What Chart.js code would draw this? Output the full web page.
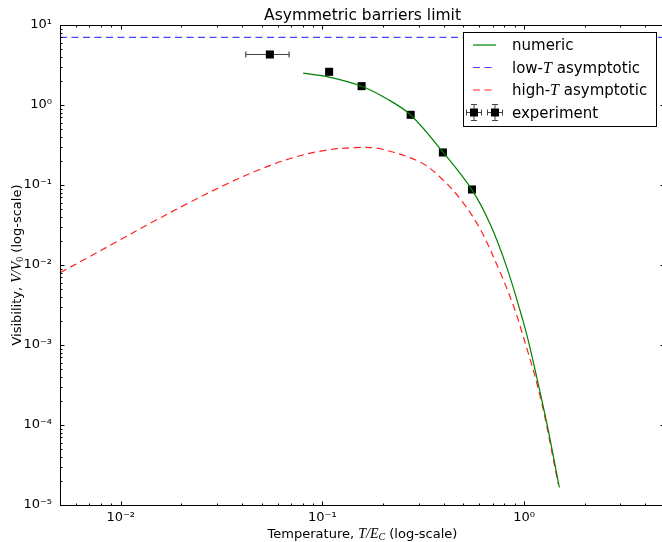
<!DOCTYPE html>
<html>
<head>
<meta charset="utf-8">
<script src="https://cdn.jsdelivr.net/npm/chart.js@4.4.0/dist/chart.umd.min.js"></script>
<style>
  html, body { margin: 0; padding: 0; background: #fff; overflow: hidden; }
</style>
</head>
<body>
<!-- canvas is a little wider than the window: the right spine of the original sits just off the edge -->
<canvas id="chart" width="665" height="542"></canvas>
<script>
// values (log-log)
const numericT = [0.0803, 0.108, 0.1565, 0.2083, 0.2741, 0.3963, 0.5518, 0.6781, 0.8206, 0.992, 1.071, 1.2965, 1.4967];
const numericV = [2.497, 2.233, 1.718, 1.199, 0.750, 0.2576, 0.0871, 0.0328, 0.00942, 0.001945, 0.000918, 1.053e-4, 1.655e-5];

const lowT_T = [0.005, 5];
const lowT_V = [7.0, 7.0];

const highT_T = [0.005, 0.00688, 0.0097, 0.0142, 0.02158, 0.0316, 0.04624, 0.06763, 0.0991, 0.145, 0.1929, 0.3047, 0.3829, 0.4813, 0.6047, 0.7604, 0.8789, 0.9552, 1.2004, 1.4798];
const highT_V = [0.00799, 0.01241, 0.01995, 0.0339, 0.05922, 0.0958, 0.1475, 0.2101, 0.2668, 0.2935, 0.2836, 0.1939, 0.1259, 0.0674, 0.02843, 0.00815, 0.003266, 0.001738, 0.0002317, 1.803e-5];

const expT = [0.0549, 0.108, 0.1565, 0.274, 0.396, 0.552];
const expV = [4.28, 2.60, 1.72, 0.754, 0.255, 0.0879];
const expTLow = [0.0417, null, null, null, null, null];
const expTHigh = [0.0684, null, null, null, null, null];

const xMin = 0.005, xMax = 5;
const yMin = 1e-5, yMax = 10;

const FONT = '"DejaVu Sans", sans-serif';
const MATH = '"Liberation Serif", serif';

const toPoints = (xs, ys) => xs.map((x, i) => ({ x: x, y: ys[i] }));

const SUP = { '-': '\u207B', '0': '\u2070', '1': '\u00B9', '2': '\u00B2', '3': '\u00B3', '4': '\u2074', '5': '\u2075' };
function powLabel(value) {
    const e = Math.log10(value);
    if (Math.abs(e - Math.round(e)) > 1e-6) return '';
    return '10' + String(Math.round(e)).split('').map(c => SUP[c]).join('');
}

function logTicks(min, max) {
    const major = [], minor = [];
    for (let e = Math.floor(Math.log10(min)); e <= Math.ceil(Math.log10(max)); e++) {
        for (let m = 1; m < 10; m++) {
            const v = m * Math.pow(10, e);
            if (v < min * 0.9999 || v > max * 1.0001) continue;
            (m === 1 ? major : minor).push(v);
        }
    }
    return { major, minor };
}

function drawRich(ctx, parts, x, y) {
    let total = 0;
    parts.forEach(p => { ctx.font = p[1]; total += ctx.measureText(p[0]).width; });
    let cx = x - total / 2;
    parts.forEach(p => {
        ctx.font = p[1];
        ctx.fillText(p[0], cx, y + (p[2] || 0));
        cx += ctx.measureText(p[0]).width;
    });
}

function drawErrMarker(ctx, x, y, hx, hy) {
    ctx.strokeStyle = '#444';
    ctx.lineWidth = 1;
    ctx.beginPath();
    ctx.moveTo(x - hx, y); ctx.lineTo(x + hx, y);
    ctx.moveTo(x - hx, y - 3); ctx.lineTo(x - hx, y + 3);
    ctx.moveTo(x + hx, y - 3); ctx.lineTo(x + hx, y + 3);
    ctx.moveTo(x, y - hy); ctx.lineTo(x, y + hy);
    ctx.moveTo(x - 3, y - hy); ctx.lineTo(x + 3, y - hy);
    ctx.moveTo(x - 3, y + hy); ctx.lineTo(x + 3, y + hy);
    ctx.stroke();
}

const errorBars = {
    id: 'errorBars',
    beforeDatasetDraw(chart, args) {
        if (args.index !== 3) return;
        const ctx = chart.ctx, xs = chart.scales.x, ys = chart.scales.y;
        ctx.save();
        ctx.strokeStyle = '#444';
        ctx.lineWidth = 1.2;
        expT.forEach((t, i) => {
            if (expTLow[i] == null) return;
            const y = Math.round(ys.getPixelForValue(expV[i])) + 0.5;
            const a = xs.getPixelForValue(expTLow[i]);
            const b = xs.getPixelForValue(expTHigh[i]);
            ctx.beginPath();
            ctx.moveTo(a, y); ctx.lineTo(b, y);
            ctx.moveTo(a, y - 3); ctx.lineTo(a, y + 3);
            ctx.moveTo(b, y - 3); ctx.lineTo(b, y + 3);
            ctx.stroke();
        });
        ctx.restore();
    }
};

const frame = {
    id: 'frame',
    afterDraw(chart) {
        const ctx = chart.ctx, a = chart.chartArea;
        const xs = chart.scales.x, ys = chart.scales.y;
        const L = Math.round(a.left) + 0.5, R = Math.round(a.right) - 0.5;
        const T = Math.round(a.top) + 0.5, B = Math.round(a.bottom) + 0.5;
        ctx.save();
        ctx.strokeStyle = '#000';
        ctx.lineWidth = 1;
        ctx.strokeRect(L, T, R - L, B - T);

        // inward tick marks on all four sides
        const tx = logTicks(xMin, xMax), ty = logTicks(yMin, yMax);
        ctx.beginPath();
        [[tx.major, 4], [tx.minor, 2]].forEach(([vals, len]) => vals.forEach(v => {
            const p = Math.round(xs.getPixelForValue(v)) + 0.5;
            ctx.moveTo(p, B); ctx.lineTo(p, B - len);
            ctx.moveTo(p, T); ctx.lineTo(p, T + len);
        }));
        [[ty.major, 4], [ty.minor, 2]].forEach(([vals, len]) => vals.forEach(v => {
            const p = Math.round(ys.getPixelForValue(v)) + 0.5;
            ctx.moveTo(L, p); ctx.lineTo(L + len, p);
            ctx.moveTo(R, p); ctx.lineTo(R - len, p);
        }));
        ctx.stroke();

        // title and axis titles
        ctx.fillStyle = '#000';
        ctx.textBaseline = 'alphabetic';
        ctx.textAlign = 'left';
        const cx = (a.left + a.right) / 2;
        drawRich(ctx, [['Asymmetric barriers limit', '15.5px ' + FONT]], cx, 20);
        drawRich(ctx, [
            ['Temperature, ', '13px ' + FONT],
            ['T/E', 'italic 14px ' + MATH],
            ['C', 'italic 10px ' + MATH, 2],
            [' (log-scale)', '13px ' + FONT]
        ], cx, 538);
        ctx.save();
        ctx.translate(21, (a.top + a.bottom) / 2);
        ctx.rotate(-Math.PI / 2);
        drawRich(ctx, [
            ['Visibility, ', '13px ' + FONT],
            ['V/V', 'italic 14px ' + MATH],
            ['0', '10px ' + MATH, 2],
            [' (log-scale)', '13px ' + FONT]
        ], 0, 0);
        ctx.restore();

        // legend box
        const bx = 463.5, by = 32.5, bw = 193, bh = 94;
        ctx.fillStyle = '#fff';
        ctx.fillRect(bx, by, bw, bh);
        ctx.strokeStyle = '#000';
        ctx.strokeRect(bx, by, bw, bh);
        const rows = [45, 67.5, 90, 112.5];
        const labels = [
            [['numeric', '15px ' + FONT]],
            [['low-', '15px ' + FONT], ['T', 'italic 16px ' + MATH], [' asymptotic', '15px ' + FONT]],
            [['high-', '15px ' + FONT], ['T', 'italic 16px ' + MATH], [' asymptotic', '15px ' + FONT]],
            [['experiment', '15px ' + FONT]]
        ];
        const styles = [['#008000', []], ['#4646ff', [7, 4.5]], ['#ff2020', [7, 4.5]]];
        styles.forEach(([c, dash], i) => {
            ctx.strokeStyle = c;
            ctx.lineWidth = 1.2;
            ctx.setLineDash(dash);
            ctx.beginPath();
            ctx.moveTo(473, rows[i]); ctx.lineTo(496, rows[i]);
            ctx.stroke();
        });
        ctx.setLineDash([]);
        [474, 495].forEach(mx => {
            drawErrMarker(ctx, mx, rows[3], 7.5, 8);
            ctx.fillStyle = '#000';
            ctx.fillRect(mx - 4, rows[3] - 4, 8, 8);
        });
        ctx.fillStyle = '#000';
        labels.forEach((parts, i) => {
            let x = 512;
            parts.forEach(p => {
                ctx.font = p[1];
                ctx.fillText(p[0], x, rows[i] + 5);
                x += ctx.measureText(p[0]).width;
            });
        });
        ctx.restore();
    }
};

new Chart(document.getElementById('chart'), {
    type: 'line',
    data: {
        datasets: [
            {
                label: 'numeric',
                data: toPoints(numericT, numericV),
                borderColor: '#008000',
                borderWidth: 1.2,
                pointRadius: 0,
                tension: 0.35
            },
            {
                label: 'low-T asymptotic',
                data: toPoints(lowT_T, lowT_V),
                borderColor: '#4646ff',
                borderWidth: 1.1,
                borderDash: [7, 4.5],
                pointRadius: 0
            },
            {
                label: 'high-T asymptotic',
                data: toPoints(highT_T, highT_V),
                borderColor: '#ff2020',
                borderWidth: 1.2,
                borderDash: [7, 4.5],
                pointRadius: 0,
                tension: 0.35
            },
            {
                label: 'experiment',
                data: toPoints(expT, expV),
                showLine: false,
                pointStyle: 'rect',
                pointRadius: 5.7,
                pointBackgroundColor: '#000',
                pointBorderColor: '#000',
                pointBorderWidth: 0
            }
        ]
    },
    options: {
        responsive: false,
        animation: false,
        clip: false,
        layout: { autoPadding: false, padding: { top: 25, right: 0, left: 0, bottom: 0 } },
        plugins: {
            legend: { display: false },
            title: { display: false },
            tooltip: { enabled: false }
        },
        scales: {
            x: {
                type: 'logarithmic',
                min: xMin,
                max: xMax,
                grid: { display: false, drawTicks: false },
                border: { display: false },
                ticks: {
                    autoSkip: false,
                    maxRotation: 0,
                    padding: 5,
                    color: '#000',
                    font: { family: 'DejaVu Sans', size: 13 },
                    callback: v => powLabel(v)
                },
                afterFit: s => { s.height = 37; s.paddingLeft = 0; s.paddingRight = 0; }
            },
            y: {
                type: 'logarithmic',
                min: yMin,
                max: yMax,
                grid: { display: false, drawTicks: false },
                border: { display: false },
                ticks: {
                    autoSkip: false,
                    padding: 8,
                    color: '#000',
                    font: { family: 'DejaVu Sans', size: 13 },
                    callback: v => powLabel(v)
                },
                afterFit: s => { s.width = 60; s.paddingTop = 0; s.paddingBottom = 0; }
            }
        }
    },
    plugins: [errorBars, frame]
});
</script>
</body>
</html>
